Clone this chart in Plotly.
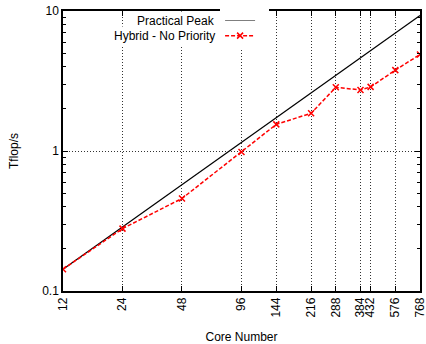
import plotly.graph_objects as go

cores = [12, 24, 48, 96, 144, 216, 288, 384, 432, 576, 768]
hybrid = [0.143, 0.279, 0.458, 0.984, 1.55, 1.86, 2.85, 2.73, 2.87, 3.78, 4.89]
peak_cores = [12, 768]
peak = [0.143, 9.3]
tick_text = [str(c) for c in cores]
y_ticks = [0.1, 1, 10]
y_tick_text = ["0.1", "1", "10"]
y_minor = [0.2, 0.3, 0.4, 0.5, 0.6, 0.7, 0.8, 0.9, 2, 3, 4, 5, 6, 7, 8, 9]
names = ["Practical Peak", "Hybrid - No Priority"]

FONT = "Liberation Sans, Arial, sans-serif"
ROW_Y = [0.964, 0.912]

fig = go.Figure()
fig.add_trace(go.Scatter(x=peak_cores, y=peak, mode="lines", name=" ",
                         legend="legend",
                         line=dict(color="black", width=1.2)))
fig.add_trace(go.Scatter(x=cores, y=hybrid, mode="lines+markers", name=" ",
                         legend="legend2",
                         line=dict(color="#ff0000", width=1.5, dash="4px,2px"),
                         marker=dict(symbol="x-thin-open", size=6,
                                     line=dict(color="#ff0000", width=1.5))))

leg_common = dict(x=0.44, xanchor="left", yanchor="middle",
                  bgcolor="white", borderwidth=0, itemwidth=30,
                  font=dict(size=12), tracegroupgap=0)

fig.update_layout(
    width=426, height=344,
    margin=dict(l=63, r=6, t=11, b=53, autoexpand=False),
    paper_bgcolor="white", plot_bgcolor="white",
    font=dict(family=FONT, size=12, color="black"),
    showlegend=True,
    legend=dict(y=ROW_Y[0], **leg_common),
    legend2=dict(y=ROW_Y[1], **leg_common),
)
fig.update_xaxes(
    type="log", range=[1.0792, 2.8854], automargin=False,
    tickvals=cores, ticktext=tick_text, tickangle=-90, ticklabeloverflow="allow",
    ticks="inside", ticklen=5, tickcolor="black",
    showline=True, linecolor="black", linewidth=1.5, mirror="ticks",
    showgrid=True, gridcolor="#333", griddash="1px,2px", gridwidth=1,
    zeroline=False,
    title=dict(text="Core Number", standoff=17, font=dict(size=12)),
)
fig.update_yaxes(
    type="log", range=[-1, 1], automargin=False, ticklabeloverflow="allow",
    tickvals=y_ticks, ticktext=y_tick_text,
    ticks="inside", ticklen=5, tickcolor="black",
    minor=dict(tickvals=y_minor, ticks="inside", ticklen=3, tickcolor="black", showgrid=False),
    showline=True, linecolor="black", linewidth=1.5, mirror="ticks",
    showgrid=True, gridcolor="#333", griddash="1px,2px", gridwidth=1,
    zeroline=False,
    title=dict(text="Tflop/s", standoff=21, font=dict(size=12)),
)

for n, ry in zip(names, ROW_Y):
    fig.add_annotation(text=n, xref="paper", yref="paper",
                       x=0.433, y=ry, xanchor="right", yanchor="middle",
                       showarrow=False, bgcolor="white", borderpad=2,
                       font=dict(size=12, family=FONT))

fig.write_html(
    "out.html",
    config={"displayModeBar": False, "responsive": False},
    post_script=("document.documentElement.style.margin='0';"
                 "document.documentElement.style.overflow='hidden';"
                 "document.body.style.margin='0';document.body.style.padding='0';"
                 "document.body.style.overflow='hidden';"),
)
